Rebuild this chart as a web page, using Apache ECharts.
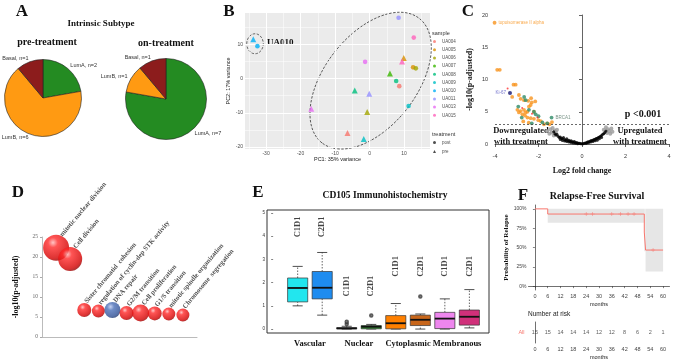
<!DOCTYPE html>
<html>
<head>
<meta charset="utf-8">
<script src="https://cdn.jsdelivr.net/npm/echarts@6.0.0/dist/echarts.min.js"></script>
<style>
  html, body { margin: 0; padding: 0; background: #fff; }
  #main { width: 676px; height: 359px; }
</style>
</head>
<body>
<div id="main"></div>
<script>
const SERIF = '"Liberation Serif", "Times New Roman", serif'
const SANS = '"Liberation Sans", Arial, sans-serif'

// A - intrinsic subtype
const subtypes = ['LumA', 'LumB', 'Basal']
const preCounts = [2, 6, 1]
const onCounts = [7, 1, 1]

// B - PCA
const samples = ['UA004', 'UA005', 'UA006', 'UA007', 'UA008', 'UA009', 'UA010', 'UA011', 'UA013', 'UA015']
const postPC1 = [8.6, 12.6, 13.4, null, 7.7, 11.3, -32.5, 8.4, -1.3, 12.8]
const postPC2 = [-2.2, 3.3, 3.0, null, -0.7, -8.0, 9.5, 17.8, 4.9, 12.0]
const prePC1 = [-6.4, 9.9, -0.7, 5.9, -4.3, -1.7, -33.7, -0.1, -16.9, 9.4]
const prePC2 = [-15.9, 6.0, -9.8, 1.5, -3.5, -17.7, 11.5, -4.4, -8.8, 5.0]
const pcaTicksX = [-30, -20, -10, 0, 10]
const pcaTicksY = [-20, -10, 0, 10]
const pcaMinorX = [-35, -25, -15, -5, 5, 15]
const pcaMinorY = [-15, -5, 5, 15]

// C - volcano
const degOrange = [[-4.02, 18.8], [-3.9, 11.5], [-3.78, 11.5], [-3.15, 9.2], [-3.05, 9.2],
  [-2.9, 7.6], [-3.21, 7.3], [-2.82, 7.0], [-2.67, 6.8], [-2.47, 6.7], [-2.34, 7.1], [-2.31, 6.45],
  [-2.15, 6.6], [-2.36, 6.05], [-2.44, 5.8], [-2.97, 5.3], [-2.82, 5.1], [-2.67, 5.3], [-2.51, 5.0],
  [-2.21, 5.0], [-2.74, 4.6], [-2.62, 4.4], [-2.9, 4.9], [-2.6, 4.9], [-2.51, 4.1], [-2.36, 4.0],
  [-2.21, 3.9], [-2.01, 3.7], [-1.9, 3.55], [-1.75, 3.05], [-1.59, 3.2], [-1.49, 3.05], [-1.38, 3.4],
  [-2.7, 3.5], [-2.45, 3.3]]
const degGreen = [[-2.59, 6.8], [-2.66, 7.3], [-2.93, 5.8], [-2.44, 5.3], [-2.13, 4.6], [-2.77, 4.1],
  [-2.31, 3.2], [-1.82, 3.35], [-1.6, 3.2], [-1.4, 4.1], [-2.21, 5.0], [-2.0, 4.3]]
const degRed = [[-3.42, 8.6], [-2.75, 5.6], [-2.3, 4.7], [-2.05, 4.1]]
const degNavy = [[-3.31, 7.9]]
const nsBlack = [[-1.3, 1.9], [-1.25, 1.6], [-1.2, 1.4], [-1.15, 1.5], [-1.1, 1.2], [-1.05, 1.0], [-1.0, 1.1],
  [-0.95, 0.9], [-0.9, 0.8], [-0.85, 1.0], [-0.8, 0.7], [-0.75, 0.6], [-0.7, 0.8], [-0.65, 0.5], [-0.6, 0.6],
  [-0.55, 0.4], [-0.5, 0.5], [-0.45, 0.35], [-0.4, 0.3], [-0.35, 0.4], [-0.3, 0.2], [-0.25, 0.25], [-0.2, 0.15],
  [-0.15, 0.1], [-0.1, 0.12], [-0.05, 0.05], [0, 0.02], [-1.0, 0.7], [-0.9, 0.55], [-0.8, 0.45], [-0.7, 0.4],
  [-0.6, 0.3], [-0.5, 0.25], [-0.4, 0.15], [-0.3, 0.1], [-0.2, 0.05], [0.05, 0.05], [0.1, 0.1], [0.15, 0.15],
  [0.2, 0.2], [0.25, 0.3], [0.3, 0.35], [0.35, 0.4], [0.4, 0.5], [0.45, 0.55], [0.5, 0.6], [0.55, 0.7],
  [0.6, 0.75], [0.65, 0.85], [0.7, 0.9], [0.75, 1.0], [0.8, 1.1], [0.85, 1.2], [0.9, 1.3], [0.95, 1.5],
  [1.0, 1.6], [1.05, 1.8], [1.1, 2.0], [0.2, 0.1], [0.3, 0.2], [0.4, 0.3], [0.5, 0.4], [0.6, 0.5],
  [0.7, 0.6], [0.8, 0.8], [0.9, 1.0]]
const nsGrey = [[-1.45, 2.3], [-1.4, 1.8], [-1.35, 2.5], [-1.3, 1.3], [-1.25, 2.1], [-1.2, 1.9], [-1.5, 1.6],
  [-1.15, 2.2], [-1.6, 2.0], [1.0, 2.2], [1.1, 2.6], [1.15, 1.7], [1.2, 2.3], [1.25, 2.0], [1.3, 1.6],
  [1.35, 2.4], [1.4, 1.9]]
const pThreshold = 3

// D - GO terms
const goTerms = ['mitotic nuclear division', 'Cell division', 'Sister chromatid  cohesion',
  'regulation of cyclin-dep STK activity', 'DNA repair', 'G2/M transition', 'Cell proliferation',
  'G1/S transition', 'mitotic spindle organization', 'Chromosome  segregation']
const goLogP = [22.3, 19.5, 6.75, 6.5, 6.75, 6.0, 6.0, 5.9, 5.75, 5.5]
const goSize = [26, 24, 14, 13, 16, 14, 17, 14, 13, 13]

// E - CD105 IHC  [min, q1, median, q3, max]
const cd105Groups = ['Vascular', 'Nuclear', 'Cytoplasmic', 'Membranous']
const cd105Cycles = ['C1D1', 'C2D1', 'C1D1', 'C2D1', 'C1D1', 'C2D1', 'C1D1', 'C2D1']
const cd105Stats = [
  [1.0, 1.17, 1.77, 2.2, 2.7],
  [0.6, 1.3, 1.78, 2.48, 3.3],
  [0, 0.01, 0.03, 0.06, 0.12],
  [0, 0.01, 0.1, 0.15, 0.2],
  [0, 0.01, 0.25, 0.58, 1.1],
  [0, 0.15, 0.4, 0.6, 0.65],
  [0, 0.02, 0.45, 0.72, 1.3],
  [0.05, 0.17, 0.53, 0.82, 1.7]
]
const cd105Outliers = [[3, 0.22], [3, 0.32], [4, 0.58], [6, 1.4]]
const cycleLabelY = [4.4, 4.4, 1.85, 1.85, 2.7, 2.7, 2.7, 2.7]

// F - relapse-free survival
const kmMonths = [0, 6, 51.2, 51.8, 60]
const kmSurv = [1, 0.933, 0.7, 0.467, 0.467]
const ciBands = [[6, 51.2, 0.82, 1], [51.2, 51.8, 0.45, 1], [51.8, 60, 0.19, 1]]
const censorMonths = [24, 27, 36, 40, 43.6, 46.4, 55.3]
const censorSurv = [0.933, 0.933, 0.933, 0.933, 0.933, 0.933, 0.467]
const riskMonths = [0, 6, 12, 18, 24, 30, 36, 42, 48, 54, 60]
const riskCounts = [15, 15, 14, 14, 14, 12, 12, 8, 6, 2, 1]

const subtypeColors = ['#248B22', '#FF9A12', '#8C1C1C']
const sampleColors = ['#F8766D', '#D89000', '#A3A500', '#39B600', '#00BF7D', '#00BFC4', '#00B0F6', '#9590FF', '#E76BF3', '#FF62BC']
const boxColors = ['#22E6EE', '#1E8CF0', '#666666', '#2E9A2E', '#FF8000', '#C8661A', '#EE86EE', '#D0307A']
const SALMON = '#F8766D'

const redBall = new echarts.graphic.RadialGradient(0.38, 0.3, 0.75, [
  { offset: 0, color: '#FFB8B8' }, { offset: 0.25, color: '#FF2A2A' },
  { offset: 0.8, color: '#D40000' }, { offset: 1, color: '#8A0000' }])
const blueBall = new echarts.graphic.RadialGradient(0.38, 0.3, 0.75, [
  { offset: 0, color: '#B8C8F0' }, { offset: 0.3, color: '#4A6FB8' },
  { offset: 0.8, color: '#2F5096' }, { offset: 1, color: '#1C3266' }])

function pieSeries(center, radius, counts) {
  return {
    type: 'pie',
    center: center,
    radius: radius,
    startAngle: 90,
    clockwise: true,
    avoidLabelOverlap: false,
    data: subtypes.map((s, i) => ({ name: s, value: counts[i], itemStyle: { color: subtypeColors[i] } })),
    itemStyle: { borderColor: '#222', borderWidth: 0.6 },
    label: {
      show: true,
      position: 'outside',
      formatter: p => p.name + ', n=' + p.value,
      fontSize: 5.5,
      color: '#333',
      fontFamily: SANS,
      distanceToLabelLine: 0
    },
    labelLine: { show: false, length: 4, length2: 0 },
    emphasis: { disabled: true }
  }
}

const pcaSeries = samples.map((s, i) => {
  const pts = []
  if (postPC1[i] !== null) {
    pts.push({ value: [postPC1[i], postPC2[i]], symbol: 'circle', symbolSize: 4.6 })
  }
  pts.push({ value: [prePC1[i], prePC2[i]], symbol: 'triangle', symbolSize: 6 })
  return {
    type: 'scatter', name: s, xAxisIndex: 0, yAxisIndex: 0,
    itemStyle: { color: sampleColors[i] }, data: pts, z: 3
  }
})

const whiteLine = w => ({ color: '#fff', width: w, type: 'solid' })

const option = {
  animation: false,
  backgroundColor: '#fff',
  textStyle: { fontFamily: SANS },
  grid: [
    { left: 245, top: 13, width: 185, height: 136, show: true, backgroundColor: '#EBEBEB', borderWidth: 0, outerBoundsMode: 'none' },
    { left: 495, top: 15, width: 174, height: 129, outerBoundsMode: 'none' },
    { left: 42, top: 237, width: 155, height: 100, outerBoundsMode: 'none' },
    { left: 267, top: 210, width: 222, height: 123, show: true, borderColor: '#333', borderWidth: 1, outerBoundsMode: 'none' },
    { left: 528.5, top: 205, width: 141, height: 85, outerBoundsMode: 'none' },
    { left: 528.5, top: 322, width: 141, height: 21, outerBoundsMode: 'none' }
  ],
  xAxis: [
    {
      gridIndex: 0, type: 'value', min: -36.1, max: 17.5,
      axisLine: { show: false },
      axisTick: { show: true, customValues: pcaTicksX, length: 2, lineStyle: { color: '#333', width: 0.6 } },
      axisLabel: { customValues: pcaTicksX, fontSize: 5, color: '#4D4D4D', margin: 2 },
      splitLine: { show: false },
      name: 'PC1: 35% variance', nameLocation: 'middle', nameGap: 6,
      nameTextStyle: { fontSize: 5.5, color: '#222' }
    },
    {
      gridIndex: 1, type: 'value', min: -4, max: 4, interval: 2, offset: 6,
      axisLine: { lineStyle: { color: '#222', width: 0.7 } },
      axisTick: { length: 3, lineStyle: { color: '#222', width: 0.7 } },
      axisLabel: { fontSize: 5.5, color: '#333', margin: 3 },
      splitLine: { show: false },
      name: 'Log2 fold change', nameLocation: 'middle', nameGap: 17,
      nameTextStyle: { fontSize: 8, fontWeight: 'bold', fontFamily: SERIF, color: '#111' }
    },
    {
      gridIndex: 2, type: 'value', min: 0, max: 11,
      axisLine: { lineStyle: { color: '#AAA', width: 0.8 } },
      axisTick: { show: false }, axisLabel: { show: false }, splitLine: { show: false }
    },
    {
      gridIndex: 3, type: 'value', min: -0.25, max: 8.8,
      axisLine: { show: false }, axisTick: { show: false }, splitLine: { show: false },
      axisLabel: {
        customValues: [1.5, 3.5, 5.5, 7.5],
        formatter: v => cd105Groups[Math.round((v - 1.5) / 2)],
        fontSize: 8.5, fontWeight: 'bold', fontFamily: SERIF, color: '#111', margin: 6
      }
    },
    {
      gridIndex: 4, type: 'value', min: -3, max: 63,
      axisLine: { lineStyle: { color: '#333', width: 0.7 } },
      axisTick: { customValues: riskMonths, length: 2, lineStyle: { color: '#333', width: 0.6 } },
      axisLabel: { customValues: riskMonths, fontSize: 5.5, color: '#444', margin: 3 },
      splitLine: { show: false },
      name: 'months', nameLocation: 'middle', nameGap: 11,
      nameTextStyle: { fontSize: 5.5, color: '#222' }
    },
    {
      gridIndex: 5, type: 'value', min: -3, max: 63,
      axisLine: { lineStyle: { color: '#333', width: 0.7 } },
      axisTick: { customValues: riskMonths, length: 2, lineStyle: { color: '#333', width: 0.6 } },
      axisLabel: { customValues: riskMonths, fontSize: 5.5, color: '#444', margin: 3 },
      splitLine: { show: false },
      name: 'months', nameLocation: 'middle', nameGap: 11,
      nameTextStyle: { fontSize: 5.5, color: '#222' }
    }
  ],
  yAxis: [
    {
      gridIndex: 0, type: 'value', min: -20.6, max: 19.2,
      axisLine: { show: false },
      axisTick: { show: true, customValues: pcaTicksY, length: 2, lineStyle: { color: '#333', width: 0.6 } },
      axisLabel: { customValues: pcaTicksY, fontSize: 5, color: '#4D4D4D', margin: 2 },
      splitLine: { show: false },
      name: 'PC2: 17% variance', nameLocation: 'middle', nameGap: 10,
      nameTextStyle: { fontSize: 5.5, color: '#222' }
    },
    {
      gridIndex: 1, type: 'value', min: 0, max: 20, interval: 5, offset: 5,
      axisLine: { show: true, lineStyle: { color: '#222', width: 0.7 } },
      axisTick: { show: true, length: 3, lineStyle: { color: '#222', width: 0.7 } },
      axisLabel: { fontSize: 5.5, color: '#333', margin: 2 },
      splitLine: { show: false },
      name: '-log10(p-adjusted)', nameLocation: 'middle', nameGap: 16,
      nameTextStyle: { fontSize: 8, fontWeight: 'bold', fontFamily: SERIF, color: '#111' }
    },
    {
      gridIndex: 2, type: 'value', min: 0, max: 25, interval: 5,
      axisLine: { show: true, lineStyle: { color: '#AAA', width: 0.8 } },
      axisTick: { show: true, length: 2, lineStyle: { color: '#AAA' } },
      axisLabel: { fontSize: 5.5, color: '#666', fontFamily: SERIF, margin: 4 },
      splitLine: { show: false },
      name: '-log10(p-adjusted)', nameLocation: 'middle', nameGap: 22,
      nameTextStyle: { fontSize: 8, fontWeight: 'bold', fontFamily: SERIF, color: '#111' }
    },
    {
      gridIndex: 3, type: 'value', min: -0.17, max: 5.13,
      axisLine: { show: false },
      axisTick: { show: true, customValues: [0, 1, 2, 3, 4, 5], length: 2, lineStyle: { color: '#333', width: 0.6 } },
      axisLabel: { customValues: [0, 1, 2, 3, 4, 5], fontSize: 4.5, color: '#333', margin: 2 },
      splitLine: { show: false }
    },
    {
      gridIndex: 4, type: 'value', min: -0.05, max: 1.05,
      axisLine: { show: true, lineStyle: { color: '#333', width: 0.7 } },
      axisTick: { show: true, customValues: [0, 0.25, 0.5, 0.75, 1], length: 2, lineStyle: { color: '#333', width: 0.6 } },
      axisLabel: { customValues: [0, 0.25, 0.5, 0.75, 1], formatter: v => Math.round(v * 100) + '%', fontSize: 5, color: '#444', margin: 2 },
      splitLine: { show: false },
      name: 'Probability of Relapse', nameLocation: 'middle', nameGap: 18,
      nameTextStyle: { fontSize: 7, fontWeight: 'bold', fontFamily: SERIF, color: '#111' }
    },
    {
      gridIndex: 5, type: 'category', data: ['All'],
      axisLine: { show: true, lineStyle: { color: '#333', width: 0.7 } },
      axisTick: { show: false },
      axisLabel: { fontSize: 5.5, color: SALMON, margin: 4 },
      splitLine: { show: false }
    }
  ],
  legend: [
    {
      data: samples, left: 433, top: 39, orient: 'vertical', icon: 'circle',
      itemWidth: 3, itemHeight: 3, itemGap: 3.2, padding: 0, selectedMode: false,
      textStyle: { fontSize: 4.5, color: '#4D4D4D', lineHeight: 5, padding: [0, 0, 0, 1] }
    },
    {
      data: [{ name: 'post', icon: 'circle' }, { name: 'pre', icon: 'triangle' }],
      left: 433, top: 140, orient: 'vertical',
      itemWidth: 3, itemHeight: 3, itemGap: 4, padding: 0, selectedMode: false,
      textStyle: { fontSize: 4.5, color: '#4D4D4D', lineHeight: 5, padding: [0, 0, 0, 1] }
    }
  ],
  series: [
    pieSeries([43, 98], 38.5, preCounts),
    pieSeries([166, 99], 40.5, onCounts),

    // B grid lines
    {
      type: 'scatter', name: 'pcaGrid', xAxisIndex: 0, yAxisIndex: 0, data: [], silent: true,
      markLine: {
        silent: true, symbol: 'none', z: 1, animation: false, label: { show: false },
        emphasis: { disabled: true },
        data: [
          ...pcaMinorX.map(v => ({ xAxis: v, lineStyle: whiteLine(0.5) })),
          ...pcaMinorY.map(v => ({ yAxis: v, lineStyle: whiteLine(0.5) })),
          ...pcaTicksX.map(v => ({ xAxis: v, lineStyle: whiteLine(1) })),
          ...pcaTicksY.map(v => ({ yAxis: v, lineStyle: whiteLine(1) }))
        ]
      }
    },
    ...pcaSeries,
    { type: 'scatter', name: 'post', xAxisIndex: 0, yAxisIndex: 0, data: [], symbol: 'circle', itemStyle: { color: '#222' } },
    { type: 'scatter', name: 'pre', xAxisIndex: 0, yAxisIndex: 0, data: [], symbol: 'triangle', itemStyle: { color: '#222' } },

    // C volcano
    {
      type: 'scatter', xAxisIndex: 1, yAxisIndex: 1, data: nsGrey, clip: false,
      symbol: 'emptyCircle', symbolSize: 2, itemStyle: { color: '#999', borderWidth: 0.5 }
    },
    {
      type: 'scatter', xAxisIndex: 1, yAxisIndex: 1, data: nsBlack, clip: false,
      symbolSize: 3, itemStyle: { color: '#000' },
      markLine: {
        silent: true, symbol: 'none', label: { show: false },
        lineStyle: { color: '#444', type: [2, 2], width: 0.8 },
        data: [{ yAxis: pThreshold }]
      }
    },
    {
      type: 'scatter', xAxisIndex: 1, yAxisIndex: 1, clip: false, symbolSize: 3.8,
      itemStyle: { color: '#F7931E' },
      data: degOrange.map((p, i) => i === 0 ? {
        value: p, name: 'topoisomerase II alpha',
        label: { show: true, position: 'right', distance: 2, formatter: '{b}', fontSize: 4.5, color: '#F7931E' }
      } : { value: p })
    },
    {
      type: 'scatter', xAxisIndex: 1, yAxisIndex: 1, clip: false, symbolSize: 3.8,
      itemStyle: { color: '#2E8B67' },
      data: degGreen.map(p => p[0] === -1.4 ? {
        value: p, name: 'BRCA1',
        label: { show: true, position: 'right', distance: 2, formatter: '{b}', fontSize: 4.5, color: '#557766' }
      } : { value: p })
    },
    {
      type: 'scatter', xAxisIndex: 1, yAxisIndex: 1, clip: false, symbolSize: 2,
      itemStyle: { color: '#FF3030' }, data: degRed
    },
    {
      type: 'scatter', xAxisIndex: 1, yAxisIndex: 1, clip: false, symbolSize: 4,
      itemStyle: { color: '#141470' },
      data: degNavy.map(p => ({
        value: p, name: 'Ki-67',
        label: { show: true, position: 'left', distance: 2, formatter: '{b}', fontSize: 4.5, color: '#5050C0' }
      }))
    },

    // D GO bubbles
    {
      type: 'scatter', xAxisIndex: 2, yAxisIndex: 2, clip: false,
      data: goTerms.map((t, i) => ({
        value: [i + 1, goLogP[i]], name: t, symbolSize: goSize[i],
        itemStyle: { color: t === 'DNA repair' ? blueBall : redBall }
      })),
      label: {
        show: true, formatter: '{b}', position: ['80%', '12%'], rotate: 50,
        align: 'left', verticalAlign: 'bottom',
        fontSize: 6.8, fontWeight: 'bold', fontFamily: SERIF, color: '#222'
      }
    },

    // E boxplots
    {
      type: 'custom', xAxisIndex: 3, yAxisIndex: 3,
      data: cd105Stats.map((s, i) => [i + 1].concat(s)),
      encode: { x: 0, y: [1, 2, 3, 4, 5] },
      renderItem: (params, api) => {
        const x = api.value(0)
        const lo = api.coord([x, api.value(1)])
        const q1 = api.coord([x, api.value(2)])
        const md = api.coord([x, api.value(3)])
        const q3 = api.coord([x, api.value(4)])
        const hi = api.coord([x, api.value(5)])
        const w = api.size([0.82, 0])[0]
        const dash = { stroke: '#222', lineWidth: 0.7, lineDash: [1.5, 1.5] }
        const solid = { stroke: '#222', lineWidth: 0.8 }
        return {
          type: 'group',
          children: [
            { type: 'line', shape: { x1: lo[0], y1: lo[1], x2: q1[0], y2: q1[1] }, style: dash },
            { type: 'line', shape: { x1: q3[0], y1: q3[1], x2: hi[0], y2: hi[1] }, style: dash },
            { type: 'line', shape: { x1: lo[0] - w / 4, y1: lo[1], x2: lo[0] + w / 4, y2: lo[1] }, style: solid },
            { type: 'line', shape: { x1: hi[0] - w / 4, y1: hi[1], x2: hi[0] + w / 4, y2: hi[1] }, style: solid },
            {
              type: 'rect',
              shape: { x: q3[0] - w / 2, y: q3[1], width: w, height: Math.max(q1[1] - q3[1], 1) },
              style: { fill: boxColors[params.dataIndex], stroke: '#333', lineWidth: 0.7 }
            },
            { type: 'line', shape: { x1: md[0] - w / 2, y1: md[1], x2: md[0] + w / 2, y2: md[1] }, style: { stroke: '#111', lineWidth: 1.8 } }
          ]
        }
      }
    },
    {
      type: 'scatter', xAxisIndex: 3, yAxisIndex: 3, data: cd105Outliers,
      symbol: 'emptyCircle', symbolSize: 2.5, itemStyle: { color: '#333', borderWidth: 0.6 }
    },
    {
      type: 'scatter', xAxisIndex: 3, yAxisIndex: 3, silent: true,
      data: cycleLabelY.map((y, i) => ({ value: [i + 1, y], name: cd105Cycles[i] })),
      symbolSize: 1, itemStyle: { color: 'transparent' },
      label: {
        show: true, position: 'inside', rotate: 90, formatter: '{b}',
        fontSize: 8.5, fontWeight: 'bold', fontFamily: SERIF, color: '#111'
      }
    },

    // F survival
    {
      type: 'custom', xAxisIndex: 4, yAxisIndex: 4, silent: true,
      data: ciBands,
      encode: { x: [0, 1], y: [2, 3] },
      renderItem: (params, api) => {
        const a = api.coord([api.value(0), api.value(3)])
        const b = api.coord([api.value(1), api.value(2)])
        return { type: 'rect', shape: { x: a[0], y: a[1], width: b[0] - a[0], height: b[1] - a[1] }, style: { fill: '#E6E6E6' } }
      }
    },
    {
      type: 'line', xAxisIndex: 4, yAxisIndex: 4, step: 'end', symbol: 'none',
      data: kmMonths.map((m, i) => [m, kmSurv[i]]),
      lineStyle: { color: SALMON, width: 1 }, z: 4
    },
    {
      type: 'scatter', xAxisIndex: 4, yAxisIndex: 4,
      data: censorMonths.map((m, i) => [m, censorSurv[i]]),
      symbol: 'path://M4.3,0H5.7V10H4.3ZM0,4.3H10V5.7H0Z', symbolSize: 4,
      itemStyle: { color: SALMON }, z: 5
    },
    {
      type: 'scatter', xAxisIndex: 5, yAxisIndex: 5, silent: true,
      data: riskMonths.map((m, i) => ({ value: [m, 0], name: String(riskCounts[i]) })),
      symbolSize: 1, itemStyle: { color: 'transparent' },
      label: { show: true, position: 'inside', formatter: '{b}', fontSize: 5.5, color: '#333' }
    }
  ]
}

const chart = echarts.init(document.getElementById('main'))
chart.setOption(option)

function txt(x, y, text, size, opts) {
  opts = opts || {}
  return {
    type: 'text', x: x, y: y, silent: true,
    style: {
      text: text,
      fontSize: size,
      fontFamily: opts.family || SERIF,
      fontWeight: opts.weight || 'bold',
      fill: opts.color || '#111',
      align: opts.align || 'center',
      verticalAlign: 'middle',
      lineHeight: opts.lineHeight
    }
  }
}

// dashed ellipses around the PCA clusters
const bigC = chart.convertToPixel({ gridIndex: 0 }, [0.3, -0.6])
const smallC = chart.convertToPixel({ gridIndex: 0 }, [-33.2, 10.2])
const ellStyle = { fill: 'none', stroke: '#444', lineWidth: 0.8, lineDash: [2.5, 1.5] }

chart.setOption({
  graphic: [
    { type: 'ellipse', x: bigC[0], y: bigC[1], rotation: 52 * Math.PI / 180, shape: { cx: 0, cy: 0, rx: 79, ry: 46 }, style: ellStyle, silent: true },
    { type: 'ellipse', x: smallC[0], y: smallC[1], shape: { cx: 0, cy: 0, rx: 8.3, ry: 10 }, style: ellStyle, silent: true },
    txt(22, 12, 'A', 17),
    txt(101, 24, 'Intrinsic Subtype', 9),
    txt(47, 42, 'pre-treatment', 10),
    txt(166, 43, 'on-treatment', 10),
    txt(229, 12, 'B', 17),
    txt(267, 43, 'UA010', 9, { align: 'left' }),
    txt(432, 33, 'sample', 5.5, { align: 'left', family: SANS, weight: 'normal', color: '#333' }),
    txt(432, 134, 'treatment', 5.5, { align: 'left', family: SANS, weight: 'normal', color: '#333' }),
    txt(468, 12, 'C', 17),
    txt(643, 114, 'p <0.001', 10),
    txt(521, 136.5, 'Downregulated\nwith treatment', 8.5, { lineHeight: 11 }),
    txt(640, 136.5, 'Upregulated\nwith treatment', 8.5, { lineHeight: 11 }),
    txt(18, 193, 'D', 17),
    txt(258, 193, 'E', 17),
    txt(385, 196, 'CD105 Immunohistochemistry', 9.5),
    txt(523, 196, 'F', 17),
    txt(597, 196, 'Relapse-Free Survival', 10),
    txt(528, 314, 'Number at risk', 6.5, { align: 'left', family: SANS, weight: 'normal', color: '#222' })
  ]
})
</script>
</body>
</html>
